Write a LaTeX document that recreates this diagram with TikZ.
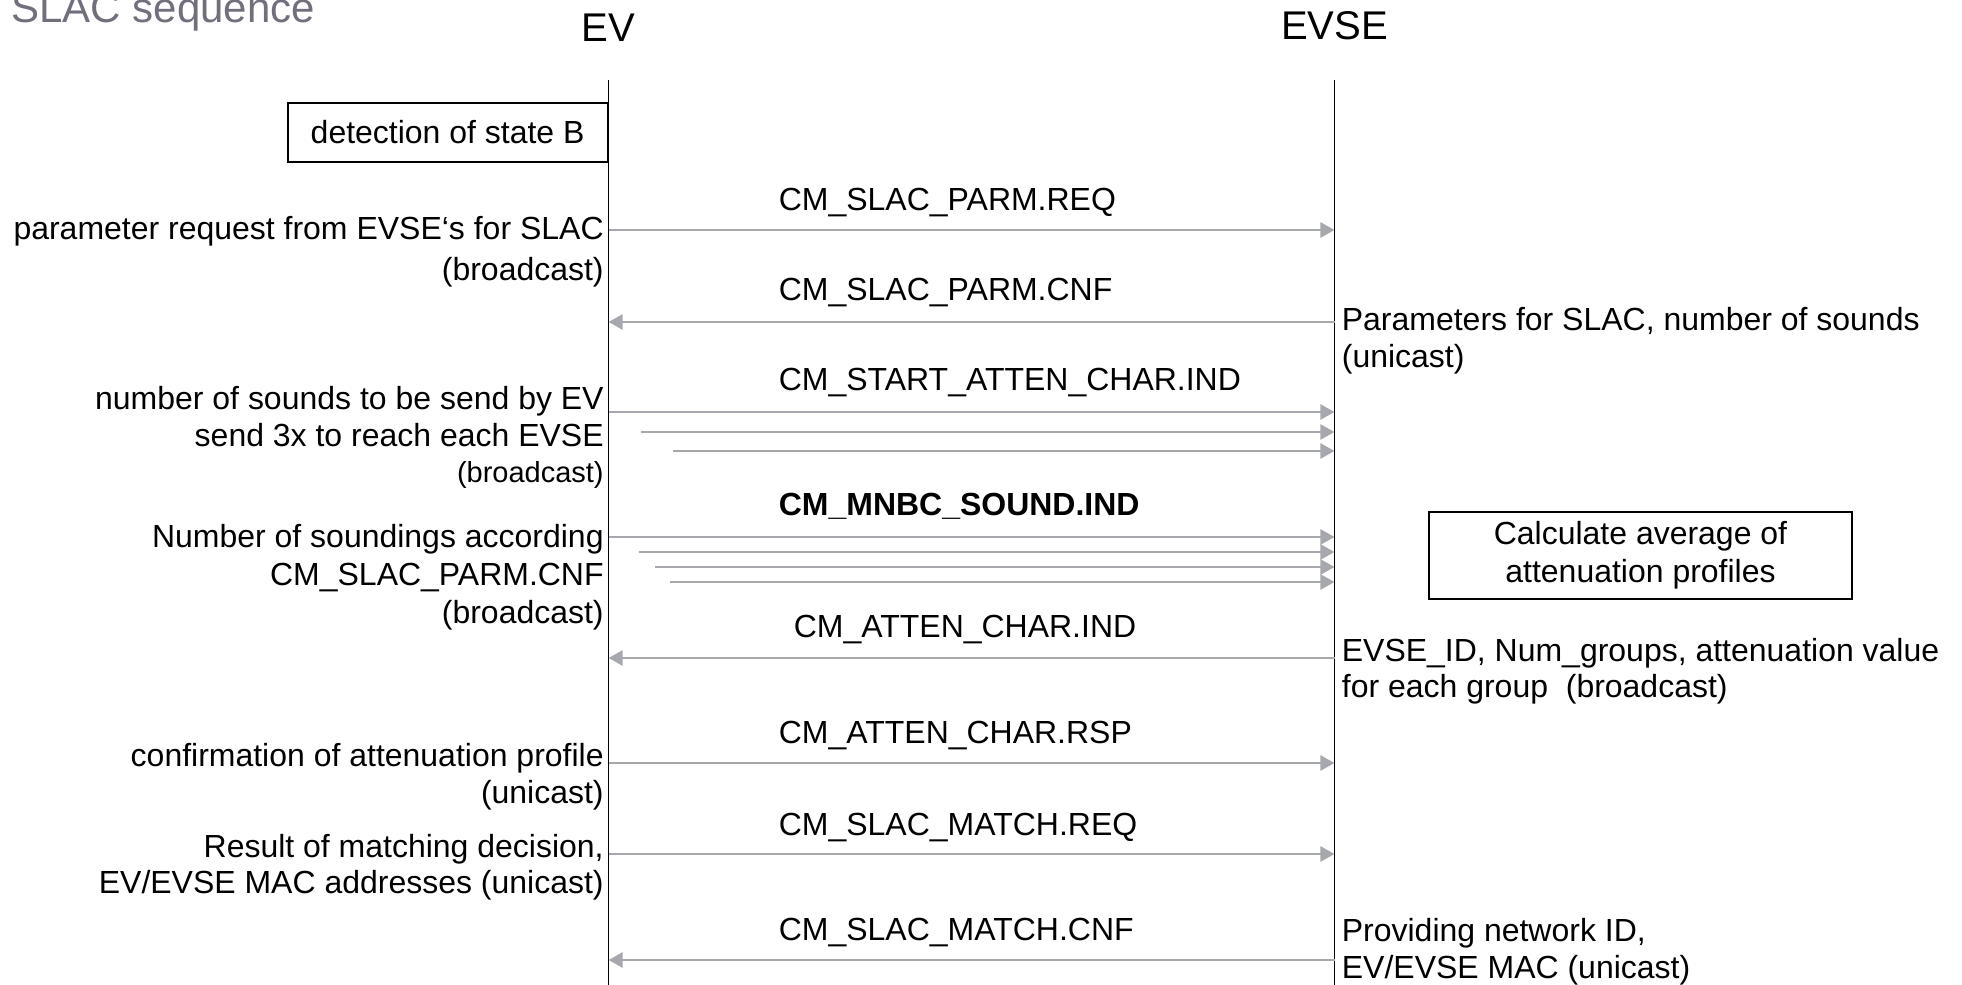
\documentclass[tikz,border=0pt]{standalone}
\usepackage{fontspec}
\setmainfont{Liberation Sans}
\usetikzlibrary{arrows.meta}

\definecolor{arrowgray}{RGB}{166,168,173}
\definecolor{titlegray}{RGB}{112,111,124}

\tikzset{
  lifeline/.style={line width=1pt, black},
  msg/.style={->, arrowgray, line width=1.6pt},
  msglabel/.style={anchor=base west, inner sep=0pt, font=\fontsize{18.2}{21.6}\selectfont},
  evnote/.style={anchor=base east, inner sep=0pt, font=\fontsize{18.2}{21.6}\selectfont},
  evsenote/.style={anchor=base west, inner sep=0pt, font=\fontsize{18.2}{21.6}\selectfont},
  actionbox/.style={draw, line width=1pt, inner sep=0pt, align=center, font=\fontsize{18.2}{21.6}\selectfont},
  header/.style={anchor=base, inner sep=0pt, font=\fontsize{22.8}{27}\selectfont},
}

\begin{document}
\begin{tikzpicture}[>={Triangle[length=8pt, width=8.5pt]}]
  \useasboundingbox (0,0) rectangle (39.24,-19.70);

  % Title and headers
  \node[anchor=base west, inner sep=0pt, text=titlegray, font=\fontsize{23.9}{28}\selectfont] (title) at (0.22,-0.46) {SLAC sequence};
  \node[header] (ev) at (12.17,-0.83) {EV};
  \node[header] (evse) at (26.69,-0.79) {EVSE};

  % Lifelines
  \coordinate (evtop) at (12.17,-1.60);
  \coordinate (evbot) at (12.17,-19.70);
  \coordinate (evsetop) at (26.69,-1.60);
  \coordinate (evsebot) at (26.69,-19.70);
  \draw[lifeline] (evtop) -- (evbot);
  \draw[lifeline] (evsetop) -- (evsebot);

  % Boxes
  \node[actionbox, anchor=east, minimum width=6.40cm, minimum height=1.18cm] (stateB) at (12.17,-2.65) {detection of state B};
  \node[actionbox, minimum width=8.46cm, minimum height=1.74cm] (calcbox) at (32.81,-11.11) {Calculate average of\\attenuation profiles};

  % Message end points on both lifelines
  \foreach \n/\y in {req/4.60, cnf/6.44, atind/13.16, atrsp/15.26, mreq/17.08, mcnf/19.20} {
    \coordinate (ev-\n) at (12.17,-\y);
    \coordinate (evse-\n) at (26.69,-\y);
  }

  % Single messages
  \draw[msg] (ev-req) -- (evse-req);
  \draw[msg] (evse-cnf) -- (ev-cnf);
  \draw[msg] (evse-atind) -- (ev-atind);
  \draw[msg] (ev-atrsp) -- (evse-atrsp);
  \draw[msg] (ev-mreq) -- (evse-mreq);
  \draw[msg] (evse-mcnf) -- (ev-mcnf);

  % Repeated messages (start atten char x3, sounds x4)
  \foreach \i/\x/\y in {1/12.17/8.24, 2/12.82/8.64, 3/13.46/9.02,
                        4/12.17/10.74, 5/12.78/11.04, 6/13.10/11.34, 7/13.40/11.64} {
    \coordinate (rep\i) at (\x,-\y);
    \coordinate (rep\i-end) at (26.69,-\y);
    \draw[msg] (rep\i) -- (rep\i-end);
  }

  % Message labels
  \node[msglabel] (lreq) at (15.57,-4.21) {CM\_SLAC\_PARM.REQ};
  \node[msglabel] (lcnf) at (15.57,-6.02) {CM\_SLAC\_PARM.CNF};
  \node[msglabel] (lstart) at (15.57,-7.82) {CM\_START\_ATTEN\_CHAR.IND};
  \node[msglabel, font=\fontsize{18.2}{21.6}\selectfont\bfseries] (lsound) at (15.57,-10.32) {CM\_MNBC\_SOUND.IND};
  \node[msglabel] (latind) at (15.87,-12.75) {CM\_ATTEN\_CHAR.IND};
  \node[msglabel] (latrsp) at (15.57,-14.86) {CM\_ATTEN\_CHAR.RSP};
  \node[msglabel] (lmreq) at (15.57,-16.71) {CM\_SLAC\_MATCH.REQ};
  \node[msglabel] (lmcnf) at (15.57,-18.81) {CM\_SLAC\_MATCH.CNF};

  % Notes beside EV
  \foreach \y/\t [count=\i] in {4.80/{parameter request from EVSE‘s for SLAC}, 5.62/{(broadcast)},
      8.20/{number of sounds to be send by EV}, 8.94/{send 3x to reach each EVSE},
      9.66/{\fontsize{16.5}{20}\selectfont(broadcast)},
      10.94/{Number of soundings according}, 11.70/{CM\_SLAC\_PARM.CNF}, 12.46/{(broadcast)},
      15.32/{confirmation of attenuation profile}, 16.06/{(unicast)},
      17.14/{Result of matching decision,}, 17.86/{EV/EVSE MAC addresses (unicast)}}
    \node[evnote] (evnote\i) at (12.08,-\y) {\t};

  % Notes beside EVSE
  \foreach \y/\t [count=\i] in {6.62/{Parameters for SLAC, number of sounds}, 7.36/{(unicast)},
      13.22/{EVSE\_ID, Num\_groups, attenuation value}, 13.94/{for each group~~(broadcast)},
      18.82/{Providing network ID,}, 19.56/{EV/EVSE MAC (unicast)}}
    \node[evsenote] (evsenote\i) at (26.83,-\y) {\t};
\end{tikzpicture}
\end{document}
